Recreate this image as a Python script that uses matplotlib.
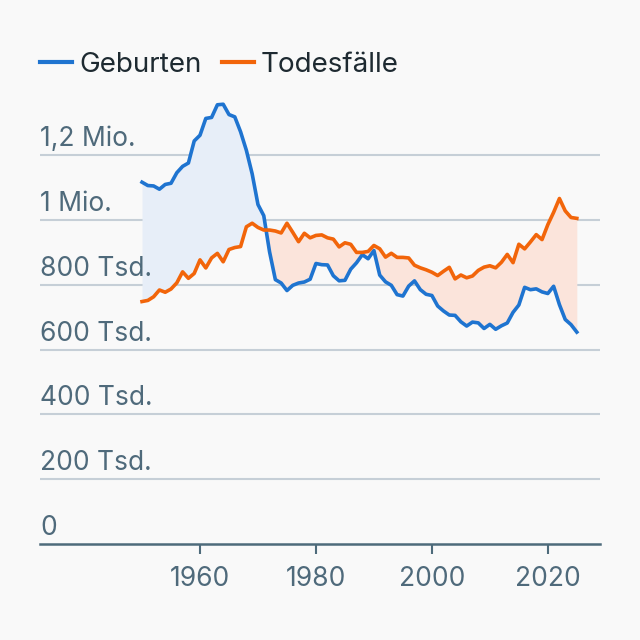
import matplotlib
matplotlib.use("Agg")
import matplotlib.pyplot as plt
import numpy as np
from matplotlib.lines import Line2D

years = list(range(1950, 2026))
births = [1116701, 1106380, 1105084, 1095029, 1109743, 1113408, 1145849, 1165555, 1175870, 1243922,
          1261614, 1313505, 1316534, 1355595, 1357304, 1325386, 1318303, 1272276, 1214968, 1142366,
          1047737, 1013396, 901657, 815969, 805500, 782310, 798334, 805496, 808619, 817217,
          865789, 862100, 861275, 827933, 812292, 813803, 848232, 867969, 892993, 880459,
          905675, 830019, 809114, 798447, 769603, 765221, 796013, 812173, 785034, 770744,
          766999, 734475, 719250, 706721, 705622, 685795, 672724, 684862, 682514, 665126,
          677947, 662685, 673544, 682069, 714927, 737575, 792141, 784901, 787523, 778090,
          773144, 795492, 738819, 692989, 677117, 654000]
deaths = [748329, 751767, 763000, 784000, 777000, 787000, 806000, 840000, 820000, 835000,
          877000, 852000, 883000, 897000, 871000, 909000, 915000, 918000, 979000, 990000,
          977000, 969000, 969000, 966000, 960000, 990000, 962000, 933000, 959000, 945000,
          952371, 954000, 945000, 941000, 917000, 929649, 925000, 900000, 900000, 903000,
          921445, 911245, 885443, 897270, 884661, 884588, 882843, 860389, 852382, 846330,
          838797, 828541, 841686, 853946, 818271, 830227, 821627, 827155, 844439, 854544,
          858768, 852328, 869582, 893825, 868356, 925200, 910899, 932263, 954874, 939520,
          985572, 1023687, 1066341, 1028206, 1007758, 1005000]

y_ticks = [0, 200000, 400000, 600000, 800000, 1000000, 1200000]
y_labels = ["0", "200 Tsd.", "400 Tsd.", "600 Tsd.", "800 Tsd.", "1 Mio.", "1,2 Mio."]
x_ticks = [1960, 1980, 2000, 2020]
series_names = ["Geburten", "Todesfälle"]

BLUE = "#1f74d0"
ORANGE = "#f2650a"
BG = "#f9f9f9"
GRID = "#c6cfd7"
AXIS = "#4e6b7b"
TXT = "#4f6a7b"

plt.rcParams['font.family'] = ['Inter', 'DejaVu Sans']

fig = plt.figure(figsize=(6.4, 6.4), dpi=100, facecolor=BG)
ax = fig.add_axes([40/640, 96/640, 560/640, 453.6/640], facecolor=BG)

x = np.array(years)
b = np.array(births, dtype=float)
d = np.array(deaths, dtype=float)

ax.fill_between(x, b, d, where=b >= d, interpolate=True, color="#e7eef8", lw=0, zorder=1)
ax.fill_between(x, b, d, where=b < d, interpolate=True, color="#fbe4db", lw=0, zorder=1)
ax.plot(x, b, color=BLUE, lw=2.6, zorder=3, solid_joinstyle='round')
ax.plot(x, d, color=ORANGE, lw=2.6, zorder=3, solid_joinstyle='round')

ax.set_xlim(1932.4, 2029.0)
ax.set_ylim(0, 1400000)

for v, lab in zip(y_ticks, y_labels):
    if v > 0:
        ax.axhline(v, color=GRID, lw=1.5, zorder=0)
    ax.annotate(lab, xy=(0, v), xycoords=('axes fraction', 'data'), xytext=(0, 6.5),
                textcoords='offset points', ha='left', va='baseline', fontsize=19, color=TXT)

ax.set_yticks([])
ax.set_xticks(x_ticks)
ax.set_xticklabels([str(t) for t in x_ticks])
ax.tick_params(axis='x', length=7, width=1.5, color=AXIS, labelcolor=TXT, labelsize=19, pad=9)
for s in ['top', 'right', 'left']:
    ax.spines[s].set_visible(False)
ax.spines['bottom'].set_color(AXIS)
ax.spines['bottom'].set_linewidth(1.8)

handles = [Line2D([0], [0], color=BLUE, lw=3), Line2D([0], [0], color=ORANGE, lw=3)]
fig.legend(handles, series_names, loc='center left', bbox_to_anchor=(40/640, 1 - 65/640),
           ncol=2, frameon=False, fontsize=20, handlelength=1.15, handletextpad=0.25,
           columnspacing=0.75, labelcolor="#1e2a31", borderpad=0, borderaxespad=0)

fig.savefig("out.png", dpi=100, facecolor=BG)
